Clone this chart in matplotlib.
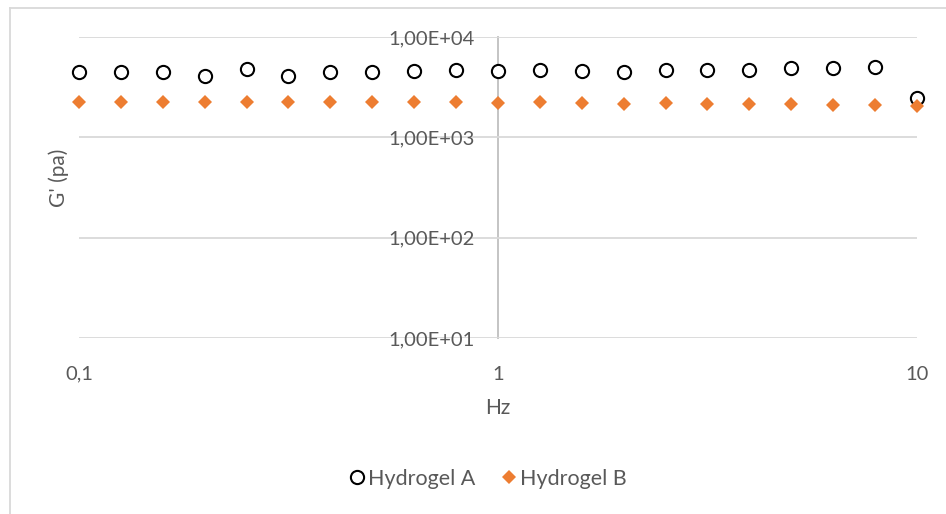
import matplotlib.pyplot as plt
import matplotlib.lines as mlines
import numpy as np

# frequency sweep (Hz), 10 points per decade
freq = [0.1, 0.1259, 0.1585, 0.1995, 0.2512, 0.3162, 0.3981, 0.5012, 0.631, 0.7943,
        1.0, 1.259, 1.585, 1.995, 2.512, 3.162, 3.981, 5.012, 6.31, 7.943, 10.0]

hydrogelA = [4446, 4446, 4446, 4112, 4766, 4112, 4446, 4446, 4581, 4690,
             4581, 4690, 4581, 4508, 4690, 4690, 4690, 4875, 4943, 5057, 2448]
hydrogelB = [2234, 2234, 2234, 2234, 2234, 2234, 2234, 2234, 2234, 2234,
             2210, 2234, 2183, 2133, 2183, 2133, 2133, 2133, 2099, 2099, 2066]

yticks = [10, 100, 1000, 10000]
yticklabels = ['1,00E+01', '1,00E+02', '1,00E+03', '1,00E+04']
xticks = [0.1, 1, 10]
xticklabels = ['0,1', '1', '10']

plt.rcParams['font.family'] = ['Lato', 'DejaVu Sans']
fontSize = 14.5
textColor = '#595959'

fig = plt.figure(figsize=(9.46, 5.14), dpi=100)
ax = fig.add_axes([79/946, 1 - 338/514, (917 - 79)/946, (338 - 37)/514])

ax.plot(freq, hydrogelA, linestyle='none', marker='o', markersize=9.5,
        markeredgewidth=1.5, markeredgecolor='black', markerfacecolor='white',
        label='Hydrogel A', zorder=3, clip_on=False)
ax.plot(freq, hydrogelB, linestyle='none', marker='D', markersize=7.5,
        markeredgewidth=0, color='#ED7D31', label='Hydrogel B', zorder=3, clip_on=False)

ax.set_xscale('log')
ax.set_yscale('log')
ax.set_xlim(0.1, 10)
ax.set_ylim(10, 10000)

ax.set_xticks(xticks)
ax.set_xticklabels(xticklabels)
ax.set_yticks(yticks)
ax.set_yticklabels(yticklabels)
ax.minorticks_off()

ax.yaxis.grid(True, color='#D9D9D9', linewidth=1.3)
ax.set_axisbelow(True)

for s in ['top', 'right', 'bottom']:
    ax.spines[s].set_visible(False)
ax.spines['left'].set_position(('data', 1))
ax.spines['left'].set_color('#BFBFBF')
ax.spines['left'].set_linewidth(1.3)
ax.spines['left'].set_zorder(0.5)

ax.tick_params(axis='y', length=0, pad=17, labelsize=fontSize, labelcolor=textColor)
ax.tick_params(axis='x', length=0, pad=20, labelsize=fontSize, labelcolor=textColor)

ax.set_xlabel('Hz', fontsize=fontSize + 0.5, color=textColor)
ax.xaxis.label.set_va('center')
ax.xaxis.set_label_coords(0.5, -0.233)

ax.set_ylabel("G' (pa)", fontsize=fontSize + 0.5, color=textColor)
ax.yaxis.label.set_va('center')
ax.yaxis.set_label_coords(-0.024, 0.532)

handles, labels = ax.get_legend_handles_labels()
leg = fig.legend(handles, labels, loc='center', bbox_to_anchor=(0.516, 1 - 479/514),
                 ncol=2, frameon=False, fontsize=fontSize + 1, handlelength=0.7,
                 handletextpad=0.15, columnspacing=1.2, borderaxespad=0)
for t in leg.get_texts():
    t.set_color(textColor)

# chart area border (only top and left visible in the crop)
fig.add_artist(mlines.Line2D([10/946, 1.0], [1 - 8/514, 1 - 8/514], color='#D9D9D9', lw=1.3))
fig.add_artist(mlines.Line2D([10/946, 10/946], [0.0, 1 - 8/514], color='#D9D9D9', lw=1.3))

fig.savefig('out.png', dpi=100)
